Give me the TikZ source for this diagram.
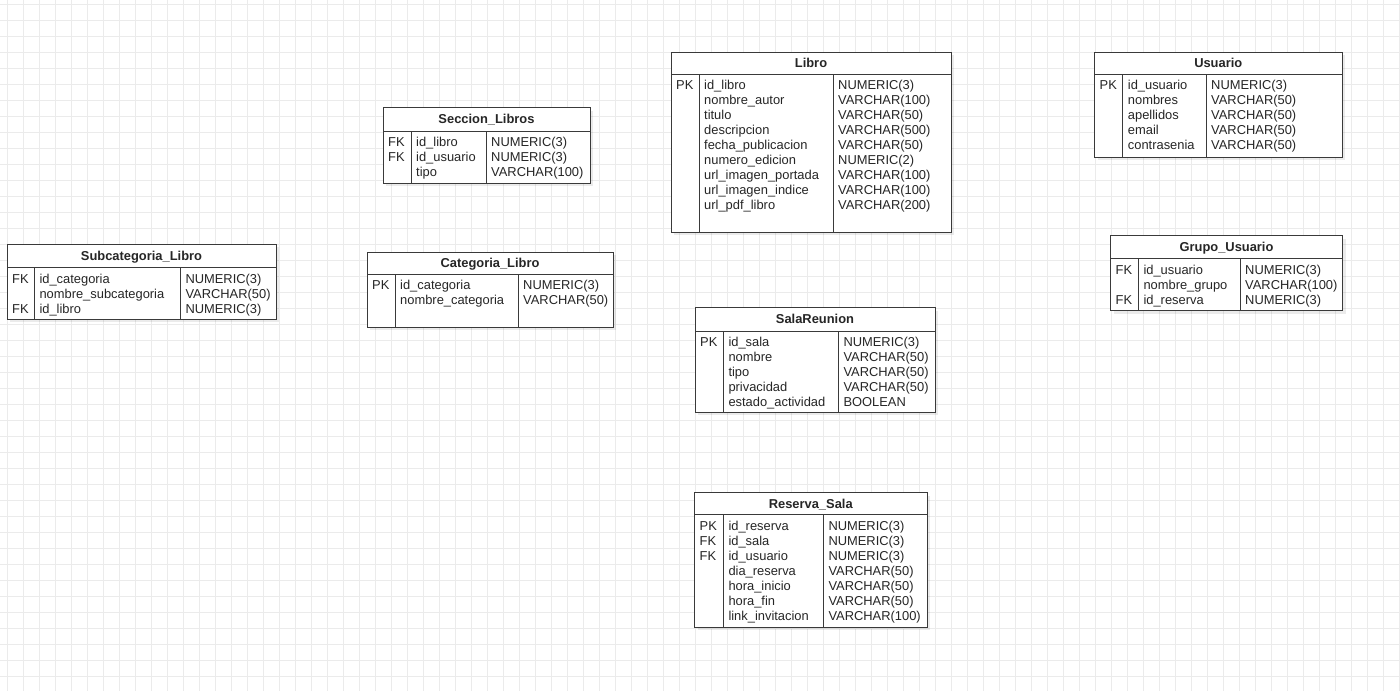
\documentclass[tikz,border=0pt]{standalone}
\usepackage{fontspec}
\setmainfont{Liberation Sans}

\definecolor{gridc}{HTML}{EBEBEB}
\definecolor{linec}{HTML}{3A3A3A}
\definecolor{textc}{HTML}{262626}

\tikzset{
  gridline/.style={draw=gridc, line width=1pt},
  tblbox/.style={draw=linec, fill=white, line width=1pt, inner sep=0pt, outer sep=0pt},
  tblrule/.style={draw=linec, line width=1pt},
  tblshadow/.style={fill=black, opacity=0.08},
  cell/.style={anchor=base west, inner sep=0pt, text=textc, font=\fontsize{12.9}{15}\selectfont},
  tbltitle/.style={anchor=base, inner sep=0pt, text=textc, font=\fontsize{12.9}{15}\selectfont\bfseries}
}

% #1 name, #2 left, #3 top, #4 right, #5 bottom, #6 header bottom,
% #7 key/name divider, #8 name/type divider, #9 title
\newcommand\erdbox[9]{%
  \fill[tblshadow] (#2+3,#3+3) rectangle (#4+3,#5+3);
  \node[tblbox, minimum width={(#4-#2)*1pt}, minimum height={(#5-#3)*1pt}]
    (#1) at ({(#2+#4)/2},{(#3+#5)/2}) {};
  \node[tbltitle] (#1-title) at ({(#2+#4)/2},{(#3+#6)/2+4.5}) {#9};
  \draw[tblrule] (#2,#6) -- (#4,#6);
  \draw[tblrule] (#7,#6) -- (#7,#5);
  \draw[tblrule] (#8,#6) -- (#8,#5);
}

% #1 name, #2 left, #3 key/name divider, #4 name/type divider, #5 header bottom,
% #6 keys as row/label, #7 column names, #8 column types
\newcommand\erdrows[8]{%
  \foreach \r/\k in {#6}
    \node[cell] (#1-key\r) at (#2+5, #5+15.8+15*\r-15) {\k};
  \foreach \t [count=\i] in {#7}
    \node[cell] (#1-name\i) at (#3+5, #5+15.8+15*\i-15) {\t};
  \foreach \t [count=\i] in {#8}
    \node[cell] (#1-type\i) at (#4+5, #5+15.8+15*\i-15) {\t};
}

\begin{document}
\begin{tikzpicture}[x=1pt, y=-1pt]
  \useasboundingbox (0,0) rectangle (1400,691);
  \fill[white] (0,0) rectangle (1400,691);

  % background grid
  \foreach \i in {0,...,87}
    \draw[gridline] (7.3+16*\i,0) -- (7.3+16*\i,691);
  \foreach \j in {0,...,43}
    \draw[gridline] (0,4+16*\j) -- (1400,4+16*\j);

  % Libro
  \erdbox{libro}{671}{52}{951}{232}{74}{699}{833}{Libro}
  \erdrows{libro}{671}{699}{833}{74}{1/PK}
    {id\_libro, nombre\_autor, titulo, descripcion, fecha\_publicacion,
     numero\_edicion, url\_imagen\_portada, url\_imagen\_indice, url\_pdf\_libro}
    {NUMERIC(3), VARCHAR(100), VARCHAR(50), VARCHAR(500), VARCHAR(50),
     NUMERIC(2), VARCHAR(100), VARCHAR(100), VARCHAR(200)}

  % Seccion_Libros
  \erdbox{seccion}{383}{107.5}{590}{183}{131}{411}{486}{Seccion\_Libros}
  \erdrows{seccion}{383}{411}{486}{131}{1/FK, 2/FK}
    {id\_libro, id\_usuario, tipo}
    {NUMERIC(3), NUMERIC(3), VARCHAR(100)}

  % Subcategoria_Libro
  \erdbox{subcat}{7}{244}{276}{319}{267.3}{34.3}{180.3}{Subcategoria\_Libro}
  \erdrows{subcat}{7}{34.3}{180.3}{267.3}{1/FK, 3/FK}
    {id\_categoria, nombre\_subcategoria, id\_libro}
    {NUMERIC(3), VARCHAR(50), NUMERIC(3)}

  % Categoria_Libro
  \erdbox{categoria}{367}{252}{613}{327}{274}{395}{518}{Categoria\_Libro}
  \erdrows{categoria}{367}{395}{518}{274}{1/PK}
    {id\_categoria, nombre\_categoria}
    {NUMERIC(3), VARCHAR(50)}

  % Usuario
  \erdbox{usuario}{1094.5}{52}{1342}{157}{74}{1122.7}{1206}{Usuario}
  \erdrows{usuario}{1094.5}{1122.7}{1206}{74}{1/PK}
    {id\_usuario, nombres, apellidos, email, contrasenia}
    {NUMERIC(3), VARCHAR(50), VARCHAR(50), VARCHAR(50), VARCHAR(50)}

  % Grupo_Usuario
  \erdbox{grupo}{1110.5}{235.5}{1342.5}{310.5}{258.5}{1138.3}{1240}{Grupo\_Usuario}
  \erdrows{grupo}{1110.5}{1138.3}{1240}{258.5}{1/FK, 3/FK}
    {id\_usuario, nombre\_grupo, id\_reserva}
    {NUMERIC(3), VARCHAR(100), NUMERIC(3)}

  % SalaReunion
  \erdbox{sala}{695}{307.5}{935}{412}{331}{723.3}{838.3}{SalaReunion}
  \erdrows{sala}{695}{723.3}{838.3}{331}{1/PK}
    {id\_sala, nombre, tipo, privacidad, estado\_actividad}
    {NUMERIC(3), VARCHAR(50), VARCHAR(50), VARCHAR(50), BOOLEAN}

  % Reserva_Sala
  \erdbox{reserva}{694.5}{492.5}{927}{627}{514.5}{723.3}{823.3}{Reserva\_Sala}
  \erdrows{reserva}{694.5}{723.3}{823.3}{514.5}{1/PK, 2/FK, 3/FK}
    {id\_reserva, id\_sala, id\_usuario, dia\_reserva, hora\_inicio,
     hora\_fin, link\_invitacion}
    {NUMERIC(3), NUMERIC(3), NUMERIC(3), VARCHAR(50), VARCHAR(50),
     VARCHAR(50), VARCHAR(100)}
\end{tikzpicture}
\end{document}
